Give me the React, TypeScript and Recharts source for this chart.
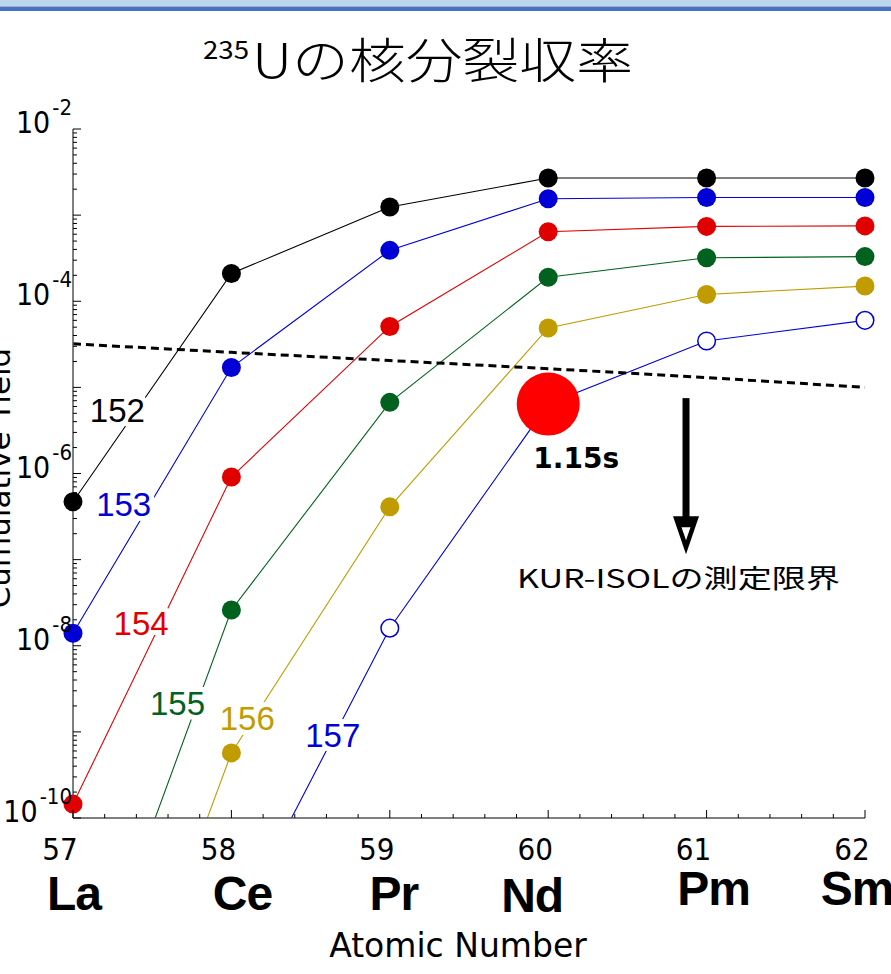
import { LineChart, Line, XAxis, YAxis, ReferenceDot } from "recharts";

// atomic number on x, cumulative fission yield of 235U on y (log)
const atomicNumbers = [57, 58, 59, 60, 61, 62];
const elements = ["La", "Ce", "Pr", "Nd", "Pm", "Sm"];

const yield152 = [4.7e-7, 2.1e-4, 1.24e-3, 2.7e-3, 2.7e-3, 2.7e-3];
const yield153 = [1.4e-8, 1.7e-5, 3.9e-4, 1.55e-3, 1.6e-3, 1.6e-3];
const yield154 = [1.45e-10, 9.1e-7, 5.1e-5, 6.4e-4, 7.4e-4, 7.5e-4];
const yield155 = [2.5e-13, 2.6e-8, 6.7e-6, 1.9e-4, 3.2e-4, 3.3e-4];
const yield156 = [6e-15, 5.7e-10, 4.1e-7, 4.9e-5, 1.2e-4, 1.5e-4];
const yield157 = [null, 4.5e-12, 1.6e-8, 6.4e-6, 3.45e-5, 6.0e-5];
const isolLimit = [3.2e-5, 2.55e-5, 2.05e-5, 1.65e-5, 1.3e-5, 1.0e-5];

const open157 = [59, 61, 62]; // hollow markers
const highlightZ = 60; // 157Nd
const highlightHalfLife = "1.15s";

const yLabelTicks = [1e-10, 1e-8, 1e-6, 1e-4, 1e-2];

const series = [
  { name: "152", color: "#000000", values: yield152 },
  { name: "153", color: "#0000d6", values: yield153 },
  { name: "154", color: "#e00000", values: yield154 },
  { name: "155", color: "#00621e", values: yield155 },
  { name: "156", color: "#c09c00", values: yield156 },
  { name: "157", color: "#0000d6", values: yield157 },
];

// where the mass-number tags sit (data coords)
const tagSpots = [
  { z: 57.28, y: 5.45e-6 },
  { z: 57.32, y: 4.4e-7 },
  { z: 57.43, y: 1.83e-8 },
  { z: 57.66, y: 2.15e-9 },
  { z: 58.1, y: 1.44e-9 },
  { z: 58.64, y: 9.2e-10 },
];

const Y_MIN = 1e-10;
const Y_MAX = 1e-2;

const rows = atomicNumbers.map((z, i) => {
  const row: any = { z, limit: isolLimit[i] };
  series.forEach((s) => {
    const v = s.values[i];
    row["y" + s.name] = v;
    row["d" + s.name] = v != null && v >= Y_MIN ? v : null;
  });
  return row;
});

const xTicks: number[] = [];
for (let t = 570; t <= 620; t += 2) xTicks.push(t / 10);

const yTicks: number[] = [];
for (let e = -10; e < -2; e++) {
  for (let m = 1; m <= 9; m++) yTicks.push(m * Math.pow(10, e));
}
yTicks.push(1e-2);

const axisColor = "#555";
const condensed = "'DejaVu Sans Condensed', 'DejaVu Sans', sans-serif";

const isDecade = (v: number) => Math.abs(Math.log10(v) - Math.round(Math.log10(v))) < 1e-6;
const isInt = (v: number) => Math.abs(v - Math.round(v)) < 1e-6;

const symDx = [1, 11, 4, -16, 7, -8];
const symDy = [92, 92, 92, 94, 87, 87];

function BottomTick(props: any) {
  const { x, y, payload } = props;
  const v = payload.value;
  const major = isInt(v);
  const idx = Math.round(v) - 57;
  return (
    <g>
      <line x1={x} x2={x} y1={y} y2={y - (major ? 8 : 4)} stroke="#000" strokeWidth={1} />
      {major && (
        <>
          <text x={x - 13} y={y + 42} textAnchor="middle" fontSize={31} fontFamily={condensed} fill="#000">
            {Math.round(v)}
          </text>
          <text
            x={x + symDx[idx]}
            y={y + symDy[idx]}
            textAnchor="middle"
            fontSize={48}
            fontWeight="bold"
            fontFamily="'Liberation Sans', Arial, sans-serif"
            letterSpacing={-1}
            fill="#000"
          >
            {elements[idx]}
          </text>
        </>
      )}
    </g>
  );
}

function TopTick(props: any) {
  const { x, y, payload } = props;
  const major = isInt(payload.value);
  return <line x1={x} x2={x} y1={y} y2={y + (major ? 8 : 4)} stroke="#000" strokeWidth={1} />;
}

function LeftTick(props: any) {
  const { x, y, payload } = props;
  const v = payload.value;
  const major = isDecade(v);
  const showLabel = yLabelTicks.some((t) => Math.abs(Math.log10(t) - Math.log10(v)) < 1e-6);
  return (
    <g>
      <line x1={x} x2={x + (major ? 8 : 4)} y1={y} y2={y} stroke="#000" strokeWidth={1} />
      {showLabel && (
        <text x={x - 1} y={y + 4} textAnchor="end" fontFamily={condensed} fill="#000">
          <tspan fontSize={30}>10</tspan>
          <tspan fontSize={22} dx={2} dy={-18}>
            {Math.round(Math.log10(v))}
          </tspan>
        </text>
      )}
    </g>
  );
}

function RightTick(props: any) {
  const { x, y, payload } = props;
  const major = isDecade(payload.value);
  return <line x1={x} x2={x - (major ? 8 : 4)} y1={y} y2={y} stroke="#000" strokeWidth={1} />;
}

function makeDot(name: string, color: string) {
  return (p: any) => {
    const { cx, cy, index, payload, value } = p;
    const k = `${name}-${index}`;
    if (cx == null || cy == null || value == null || Number.isNaN(cy)) return <g key={k} />;
    if (name === "157" && payload.z === highlightZ) {
      return (
        <g key={k}>
          <circle cx={cx} cy={cy} r={31.5} fill="#ff0000" />
          <text
            x={cx + 28}
            y={cy + 64}
            textAnchor="middle"
            fontSize={28}
            fontWeight="bold"
            fontFamily="'DejaVu Sans', sans-serif"
            fill="#000"
          >
            {highlightHalfLife}
          </text>
        </g>
      );
    }
    if (name === "157" && open157.includes(payload.z)) {
      return <circle key={k} cx={cx} cy={cy} r={8.8} fill="#fff" stroke={color} strokeWidth={1.5} />;
    }
    return <circle key={k} cx={cx} cy={cy} r={9.5} fill={color} />;
  };
}

function makeTag(text: string, color: string) {
  return (p: any) => (
    <text
      x={p.cx}
      y={p.cy + 12}
      textAnchor="middle"
      fontSize={33}
      fontFamily="'Liberation Sans', Arial, sans-serif"
      fill={color}
      stroke="#fff"
      strokeWidth={10}
      paintOrder="stroke"
      strokeLinejoin="round"
    >
      {text}
    </text>
  );
}

function LimitArrow(p: any) {
  const { cx, cy } = p;
  return (
    <g>
      <polygon points={`${cx - 13},${cy + 118} ${cx + 13},${cy + 118} ${cx},${cy + 156}`} fill="#000" />
      <polygon points={`${cx - 4.5},${cy + 129} ${cx + 4.5},${cy + 129} ${cx},${cy + 142}`} fill="#fff" />
      <rect x={cx - 3.5} y={cy} width={7} height={128} fill="#000" />
      <text
        x={cx - 169}
        y={cy + 190}
        fontSize={26}
        fontFamily="'Noto Sans CJK JP', sans-serif"
        textLength={323}
        lengthAdjust="spacingAndGlyphs"
        fill="#000"
      >
        KUR-ISOLの測定限界
      </text>
    </g>
  );
}

export default function App() {
  return (
    <div style={{ position: "absolute", left: 0, top: 0, width: 891, height: 974, background: "#fff", overflow: "hidden" }}>
      <div style={{ position: "absolute", left: 0, top: 0, width: 891, height: 6, background: "#bdd7ee" }} />
      <div style={{ position: "absolute", left: 0, top: 6, width: 891, height: 1, background: "#9fb4c8" }} />
      <div style={{ position: "absolute", left: 0, top: 7, width: 891, height: 4, background: "#4472c4" }} />
      <div style={{ position: "absolute", left: 0, top: 0 }}>
        <LineChart width={891} height={974} data={rows} margin={{ top: 129, right: 26, bottom: 0, left: 0 }}>
          <XAxis
            dataKey="z"
            type="number"
            domain={[57, 62]}
            ticks={xTicks}
            interval={0}
            height={156}
            tickSize={0}
            tickMargin={0}
            tickLine={false}
            axisLine={{ stroke: axisColor, strokeWidth: 1.5 }}
            tick={<BottomTick />}
          />
          <XAxis
            xAxisId="top"
            orientation="top"
            type="number"
            domain={[57, 62]}
            ticks={xTicks}
            interval={0}
            height={0}
            tickSize={0}
            tickMargin={0}
            tickLine={false}
            axisLine={{ stroke: axisColor, strokeWidth: 1.5 }}
            tick={<TopTick />}
          />
          <YAxis
            scale="log"
            type="number"
            domain={[Y_MIN, Y_MAX]}
            allowDataOverflow
            ticks={yTicks}
            interval={0}
            width={73}
            tickSize={0}
            tickMargin={0}
            tickLine={false}
            axisLine={{ stroke: axisColor, strokeWidth: 1.5 }}
            tick={<LeftTick />}
          />
          <YAxis
            yAxisId="right"
            orientation="right"
            scale="log"
            type="number"
            domain={[Y_MIN, Y_MAX]}
            allowDataOverflow
            ticks={yTicks}
            interval={0}
            width={0}
            tickSize={0}
            tickMargin={0}
            tickLine={false}
            axisLine={{ stroke: axisColor, strokeWidth: 1.5 }}
            tick={<RightTick />}
          />
          <YAxis yAxisId="dots" hide scale="log" type="number" domain={[Y_MIN, Y_MAX]} />

          {series.map((s) => (
            <Line
              key={"l" + s.name}
              dataKey={"y" + s.name}
              stroke={s.color}
              strokeWidth={1.1}
              dot={false}
              activeDot={false}
              connectNulls={false}
              isAnimationActive={false}
            />
          ))}
          <Line
            dataKey="limit"
            stroke="#000"
            strokeWidth={3}
            strokeDasharray="8 5"
            dot={false}
            activeDot={false}
            isAnimationActive={false}
          />
          {series.map((s) => (
            <Line
              key={"d" + s.name}
              yAxisId="dots"
              dataKey={"d" + s.name}
              stroke="none"
              dot={makeDot(s.name, s.color)}
              activeDot={false}
              isAnimationActive={false}
            />
          ))}
          {series.map((s, i) => (
            <ReferenceDot
              key={"t" + s.name}
              x={tagSpots[i].z}
              y={tagSpots[i].y}
              ifOverflow="visible"
              shape={makeTag(s.name, s.color)}
            />
          ))}
          <ReferenceDot x={60.87} y={7.5e-6} ifOverflow="visible" shape={LimitArrow} />
        </LineChart>
      </div>
      <svg width={891} height={974} style={{ position: "absolute", left: 0, top: 0, pointerEvents: "none" }}>
        <text
          x={203}
          y={59}
          fontSize={25}
          fontFamily="'Noto Sans CJK JP', sans-serif"
          textLength={46}
          lengthAdjust="spacingAndGlyphs"
          fill="#000"
        >
          235
        </text>
        <text
          x={252}
          y={78}
          fontSize={48}
          fontFamily="'Noto Sans CJK JP', sans-serif"
          fontWeight={300}
          textLength={381}
          lengthAdjust="spacingAndGlyphs"
          fill="#000"
        >
          Uの核分裂収率
        </text>
        <text x={458} y={957} textAnchor="middle" fontSize={33} fontFamily="'DejaVu Sans', sans-serif" fill="#000">
          Atomic Number
        </text>
        <text
          transform="translate(10,478) rotate(-90)"
          textAnchor="middle"
          fontSize={31}
          fontFamily="'DejaVu Sans', sans-serif"
          fill="#000"
        >
          Cumulative Yield
        </text>
      </svg>
    </div>
  );
}
